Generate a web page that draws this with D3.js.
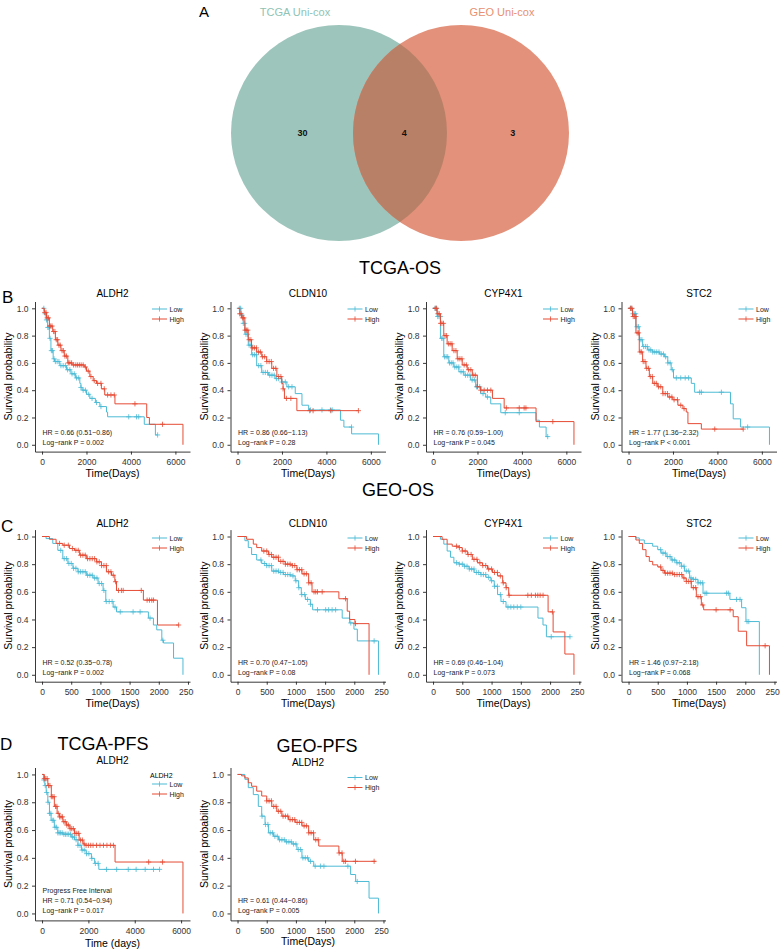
<!DOCTYPE html>
<html>
<head>
<meta charset="utf-8">
<script src="https://cdn.jsdelivr.net/npm/d3@7"></script>
<style>
  body { margin: 0; background: #fff; }
  svg { display: block; font-family: "Liberation Sans", Arial, Helvetica, sans-serif; }
</style>
</head>
<body>
<svg id="fig" width="784" height="950"></svg>
<script>
// ---- Venn (panel A) ----
var vennSets = ["TCGA Uni-cox", "GEO Uni-cox"];
var vennCounts = [30, 4, 3]; // TCGA only, both, GEO only

// ---- gene names / stats ----
var osGenes = ["ALDH2", "CLDN10", "CYP4X1", "STC2"];
var tcgaOsHR = ["HR = 0.66 (0.51\u22120.86)", "HR = 0.86 (0.66\u22121.13)", "HR = 0.76 (0.59\u22121.00)", "HR = 1.77 (1.36\u22122.32)"];
var tcgaOsP = ["Log\u2212rank P = 0.002", "Log\u2212rank P = 0.28", "Log\u2212rank P = 0.045", "Log\u2212rank P < 0.001"];
var geoOsHR = ["HR = 0.52 (0.35\u22120.78)", "HR = 0.70 (0.47\u22121.05)", "HR = 0.69 (0.46\u22121.04)", "HR = 1.46 (0.97\u22122.18)"];
var geoOsP = ["Log\u2212rank P = 0.002", "Log\u2212rank P = 0.08", "Log\u2212rank P = 0.073", "Log\u2212rank P = 0.068"];
var pfsHR = ["HR = 0.71 (0.54\u22120.94)", "HR = 0.61 (0.44\u22120.86)"];
var pfsP = ["Log\u2212rank P = 0.017", "Log\u2212rank P = 0.005"];
var groups = ["Low", "High"];

// ---- KM curves: [time(days), survival] at each step ----
var tcgaAldh2Low = [[0,1],[100,0.96],[180,0.915],[250,0.86],[330,0.78],[400,0.69],[500,0.63],[560,0.61],[800,0.58],[1100,0.55],[1300,0.52],[1500,0.49],[1700,0.45],[1750,0.42],[1800,0.40],[2000,0.37],[2150,0.34],[2400,0.31],[2600,0.28],[2900,0.24],[2950,0.205],[4600,0.15],[5100,0.072],[5200,0.072]];
var tcgaAldh2High = [[0,1],[100,0.97],[200,0.93],[330,0.87],[480,0.83],[600,0.77],[710,0.73],[850,0.69],[1000,0.65],[1160,0.6],[1350,0.585],[1900,0.57],[2000,0.54],[2150,0.5],[2300,0.47],[2450,0.45],[2670,0.41],[2820,0.365],[3280,0.3],[4710,0.2],[4830,0.15],[6340,0]];
var tcgaCldn10Low = [[0,1],[150,0.95],[257,0.89],[332,0.81],[483,0.73],[634,0.66],[861,0.58],[1087,0.53],[1389,0.51],[1691,0.485],[1993,0.46],[2220,0.425],[2597,0.375],[2899,0.29],[3201,0.255],[4636,0.18],[4787,0.13],[5134,0.08],[6342,0]];
var tcgaCldn10High = [[0,1],[100,0.96],[180,0.93],[330,0.84],[480,0.77],[630,0.71],[860,0.68],[1090,0.645],[1310,0.61],[1540,0.56],[1770,0.5],[1990,0.45],[2050,0.41],[2110,0.34],[2670,0.25],[5440,0.25]];
var tcgaCyp4x1Low = [[0,1],[181,0.94],[332,0.78],[483,0.645],[710,0.60],[936,0.57],[1163,0.535],[1389,0.51],[1691,0.475],[1918,0.425],[2144,0.375],[2371,0.35],[2597,0.30],[3050,0.235],[4636,0.18],[4787,0.13],[5089,0.06],[5194,0.06]];
var tcgaCyp4x1High = [[0,1],[181,0.96],[332,0.89],[483,0.80],[634,0.74],[861,0.69],[1087,0.63],[1313,0.585],[1540,0.55],[1766,0.51],[1993,0.425],[2144,0.40],[2673,0.34],[3201,0.27],[4636,0.17],[6342,0]];
var tcgaStc2Low = [[0,1],[181,0.96],[332,0.865],[483,0.77],[634,0.72],[861,0.695],[1087,0.68],[1389,0.665],[1616,0.645],[1766,0.60],[1918,0.55],[2023,0.49],[2824,0.45],[2975,0.385],[4590,0.30],[4711,0.19],[5043,0.13],[6342,0]];
var tcgaStc2High = [[0,1],[181,0.94],[332,0.82],[483,0.68],[634,0.61],[785,0.56],[936,0.50],[1087,0.45],[1313,0.425],[1540,0.375],[1766,0.35],[1993,0.33],[2220,0.29],[2446,0.265],[2597,0.24],[2673,0.155],[3277,0.115],[5164,0.115]];

var geoAldh2Low = [[0,1],[69,0.985],[184,0.95],[270,0.90],[356,0.84],[443,0.805],[529,0.77],[615,0.745],[759,0.72],[874,0.70],[960,0.66],[1046,0.61],[1092,0.53],[1218,0.49],[1276,0.455],[1822,0.41],[1908,0.36],[1965,0.325],[2052,0.25],[2080,0.23],[2253,0.12],[2414,0]];
var geoAldh2High = [[0,1],[126,0.98],[241,0.95],[356,0.937],[471,0.913],[557,0.90],[644,0.865],[759,0.84],[931,0.817],[1017,0.79],[1103,0.745],[1190,0.72],[1247,0.673],[1276,0.61],[1736,0.54],[1977,0.36],[2339,0.36]];
var geoCldn10Low = [[0,1],[126,0.97],[184,0.92],[241,0.87],[328,0.83],[414,0.805],[500,0.79],[586,0.75],[701,0.74],[787,0.725],[902,0.715],[988,0.68],[1046,0.63],[1092,0.58],[1161,0.545],[1247,0.51],[1287,0.47],[1793,0.41],[1920,0.375],[1994,0.33],[2052,0.245],[2414,0]];
var geoCldn10High = [[0,1],[155,0.98],[270,0.945],[328,0.92],[414,0.895],[529,0.87],[586,0.85],[701,0.82],[816,0.80],[931,0.79],[1017,0.76],[1103,0.73],[1218,0.665],[1276,0.60],[1736,0.55],[1879,0.46],[1920,0.40],[2011,0.37],[2253,0]];
var geoCyp4x1Low = [[0,1],[126,0.98],[184,0.945],[241,0.895],[299,0.85],[356,0.81],[443,0.80],[529,0.785],[615,0.765],[701,0.74],[816,0.725],[902,0.705],[988,0.68],[1046,0.64],[1103,0.58],[1161,0.53],[1247,0.49],[1793,0.41],[1879,0.36],[1937,0.275],[2339,0.275]];
var geoCyp4x1High = [[0,1],[155,0.98],[241,0.945],[328,0.93],[443,0.92],[500,0.895],[586,0.87],[672,0.835],[759,0.81],[845,0.79],[931,0.765],[1017,0.74],[1103,0.715],[1190,0.665],[1247,0.63],[1293,0.575],[1966,0.455],[2052,0.31],[2253,0.15],[2408,0]];
var geoStc2Low = [[0,1],[126,0.99],[184,0.975],[270,0.95],[414,0.93],[500,0.905],[557,0.88],[644,0.855],[730,0.83],[816,0.81],[902,0.785],[960,0.75],[1046,0.70],[1103,0.69],[1190,0.665],[1276,0.59],[1736,0.545],[1937,0.485],[2011,0.385],[2241,0]];
var geoStc2High = [[0,1],[126,0.975],[184,0.95],[241,0.905],[299,0.855],[356,0.82],[414,0.795],[500,0.78],[557,0.755],[615,0.735],[759,0.725],[931,0.70],[988,0.675],[1075,0.63],[1161,0.565],[1247,0.505],[1287,0.47],[1793,0.42],[1879,0.315],[2023,0.21],[2414,0]];

var tcgaPfsLow = [[0,1],[60,0.96],[120,0.92],[180,0.87],[250,0.80],[320,0.72],[390,0.67],[530,0.62],[680,0.58],[900,0.57],[1260,0.55],[1400,0.53],[1550,0.49],[1700,0.456],[1900,0.43],[2130,0.396],[2270,0.36],[2450,0.317],[5070,0.317]];
var tcgaPfsHigh = [[0,1],[100,0.97],[250,0.92],[400,0.84],[530,0.77],[650,0.72],[750,0.695],[900,0.66],[1050,0.636],[1200,0.61],[1400,0.576],[1600,0.528],[1770,0.50],[1850,0.49],[3150,0.37],[6080,0]];
var geoPfsLow = [[0,1],[126,0.965],[184,0.905],[270,0.855],[356,0.77],[414,0.70],[471,0.64],[529,0.58],[615,0.555],[701,0.53],[816,0.515],[931,0.50],[1017,0.46],[1103,0.40],[1218,0.375],[1305,0.34],[1937,0.28],[2023,0.23],[2253,0.11],[2414,0]];
var geoPfsHigh = [[0,1],[69,0.99],[126,0.975],[184,0.94],[241,0.915],[328,0.88],[414,0.845],[500,0.81],[586,0.77],[672,0.735],[759,0.70],[874,0.675],[988,0.655],[1103,0.63],[1218,0.58],[1305,0.53],[1391,0.485],[1736,0.435],[1793,0.375],[2368,0.375]];

// ---- censoring times (days) ----
var tcgaAldh2LowCens = [80,140,200,260,310,360,420,470,540,600,680,760,850,950,1050,1150,1250,1350,1450,1550,1650,1750,1850,1950,2100,2250,2450,2650,3900,4250,4350,5200];
var tcgaAldh2HighCens = [120,180,230,290,340,390,450,520,580,640,700,760,820,900,960,1030,1100,1180,1250,1330,1420,1520,1600,1680,1760,1850,1950,2080,2200,2350,2500,2650,2800,2950,3100,3250,4180,5420];
var tcgaCldn10LowCens = [80,140,200,260,320,380,450,520,600,680,760,850,950,1050,1150,1250,1350,1450,1550,1650,1750,1850,2000,2150,2300,2450,3280,3800,4180,4260,5130];
var tcgaCldn10HighCens = [100,160,220,280,340,400,460,520,600,680,760,850,940,1030,1120,1220,1320,1420,1520,1620,1720,1850,1950,2050,2200,2400,3250,3400,4200,5440];
var tcgaCyp4x1LowCens = [90,150,210,270,330,390,450,520,590,660,740,820,900,980,1070,1160,1260,1360,1460,1560,1660,1760,1860,1960,2100,2250,2450,3250,3880,5160];
var tcgaCyp4x1HighCens = [100,160,220,280,340,400,470,540,610,690,770,850,940,1030,1120,1210,1300,1400,1500,1600,1700,1800,1900,2000,2150,2300,2450,2600,3300,3880,4100,4180,5390];
var tcgaStc2LowCens = [80,140,200,260,320,380,450,520,600,680,760,840,920,1000,1090,1180,1270,1370,1470,1570,1670,1770,1870,1970,2150,2350,2550,2700,3200,3280,4180,5360];
var tcgaStc2HighCens = [90,150,210,270,330,390,450,520,590,660,740,820,900,980,1070,1160,1250,1350,1450,1550,1650,1750,1850,1950,2050,2200,2350,2500,3880,5160];

var geoAldh2LowCens = [320,380,420,460,500,540,580,620,660,700,740,780,820,860,900,940,980,1020,1060,1100,1150,1200,1250,1340,1560,1680,1850,2070];
var geoAldh2HighCens = [300,380,450,520,580,620,660,700,740,780,820,860,900,940,980,1020,1060,1100,1140,1180,1220,1260,1310,1360,1390,1700,1800,1840,1880,1910,2340];
var geoCldn10LowCens = [400,460,500,540,580,620,660,700,740,780,820,860,900,950,1000,1050,1100,1150,1200,1250,1370,1510,1560,1620,1680,1940,2340];
var geoCldn10HighCens = [450,500,540,580,620,660,700,740,780,820,860,900,940,980,1020,1060,1100,1140,1180,1220,1260,1310,1340,1370,1450,1850,2020];
var geoCyp4x1LowCens = [400,450,500,540,580,620,660,700,740,780,820,860,900,950,1000,1050,1100,1150,1200,1280,1330,1380,1440,1500,2020,2340];
var geoCyp4x1HighCens = [400,450,500,550,600,650,700,750,800,850,900,950,1000,1050,1100,1150,1200,1250,1300,1620,1680,1750,1790,1830,1880,2040];
var geoStc2LowCens = [550,590,630,670,710,750,790,830,870,910,950,990,1030,1070,1110,1150,1190,1230,1270,1310,1340,1680,1710,1850,1910,2030,2060];
var geoStc2HighCens = [550,590,630,670,710,750,790,830,870,910,950,990,1030,1070,1110,1150,1190,1230,1270,1500,1740,2340];

var tcgaPfsLowCens = [80,140,200,260,320,380,440,500,560,620,680,740,800,870,940,1010,1080,1150,1230,1310,1390,1470,1550,1640,1730,1820,1920,2020,2150,2300,2420,2780,3220,3720,4060,4450,4810,5070];
var tcgaPfsHighCens = [100,160,220,280,340,400,460,520,580,640,700,760,820,880,940,1000,1070,1140,1210,1280,1350,1420,1500,1580,1660,1740,1820,1900,2000,2100,2200,2350,2500,2650,2800,2950,3080,4600,5200];
var geoPfsLowCens = [420,480,520,560,600,640,680,720,760,800,840,880,920,960,1000,1040,1080,1120,1160,1200,1250,1330,1420,1480,1890,2050];
var geoPfsHighCens = [500,540,580,620,660,700,740,780,820,860,900,940,980,1020,1060,1100,1140,1180,1220,1260,1300,1340,1380,1740,1790,1820,1850,2020,2340];

var lowColor = "#4dbbd5";
var highColor = "#e64b35";

var svg = d3.select("#fig");

// ---------- Panel A: Venn ----------
function drawVenn() {
    var vx = d3.scaleLinear().domain([-1, 1]).range([339, 461]);
    var r = 108, cy = 133;
    var defs = svg.append("defs");
    defs.append("clipPath").attr("id", "vennClip")
        .append("circle").attr("cx", vx(-1)).attr("cy", cy).attr("r", r);

    svg.append("circle").attr("cx", vx(-1)).attr("cy", cy).attr("r", r).attr("fill", "#9dc5bb");
    svg.append("circle").attr("cx", vx(1)).attr("cy", cy).attr("r", r).attr("fill", "#e3917a");
    svg.append("circle").attr("cx", vx(1)).attr("cy", cy).attr("r", r)
        .attr("clip-path", "url(#vennClip)").attr("fill", "#b98068");

    svg.append("text").attr("x", 295).attr("y", 16).attr("text-anchor", "middle")
        .attr("font-size", 11).attr("fill", "#8fc3b5").text(vennSets[0]);
    svg.append("text").attr("x", 502).attr("y", 16).attr("text-anchor", "middle")
        .attr("font-size", 11).attr("fill", "#e8906f").text(vennSets[1]);

    // region labels: left only, both, right only
    var labX = [vx(-1.6), vx(0.07), vx(1.85)];
    vennCounts.forEach(function (c, i) {
        svg.append("text").attr("x", labX[i]).attr("y", cy + 3).attr("text-anchor", "middle")
            .attr("font-size", 9).attr("font-weight", "bold").attr("fill", "#111").text(c);
    });
    svg.append("text").attr("x", 199).attr("y", 17).attr("font-size", 15).text("A");
}

// step lookup for a censor mark
function survAt(curve, t) {
    var i = d3.bisector(function (d) { return d[0]; }).right(curve, t) - 1;
    return curve[Math.max(0, i)][1];
}

// ---------- KM panel ----------
function drawKM(p) {
    var g = svg.append("g").attr("transform", "translate(" + p.x + ",0)");
    var clipId = "clip" + p.id;
    svg.select("defs").append("clipPath").attr("id", clipId)
        .append("rect").attr("x", -5).attr("y", p.top - 30).attr("width", 198.5).attr("height", 250);
    g.attr("clip-path", "url(#" + clipId + ")");

    var tMax = d3.max(p.curves, function (c) { return d3.max(c, function (d) { return d[0]; }); });
    var x = d3.scaleLinear().domain([-tMax * 0.05, tMax * 1.05]).range([35, 190]);
    var y = d3.scaleLinear().domain([-0.05, 1.05]).range([p.bottom, p.top]);

    // axes
    var yAxis = g.append("g").attr("transform", "translate(35,0)")
        .call(d3.axisLeft(y).tickValues([0, 0.2, 0.4, 0.6, 0.8, 1.0]).tickFormat(d3.format(".1f"))
            .tickSize(3).tickSizeOuter(0).tickPadding(3.5));
    var xAxis = g.append("g").attr("transform", "translate(0," + p.bottom + ")")
        .call(d3.axisBottom(x).tickValues(p.ticks).tickFormat(d3.format("d"))
            .tickSize(3).tickSizeOuter(0).tickPadding(4.5));
    [yAxis, xAxis].forEach(function (a) {
        a.selectAll("text").attr("font-size", 8.5).attr("fill", "#333").attr("font-family", null);
        a.selectAll("path, line").attr("stroke", "#222").attr("stroke-width", 0.9);
        a.attr("font-family", null);
    });

    // curves (Low first, High on top)
    var line = d3.line().curve(d3.curveStepAfter)
        .x(function (d) { return x(d[0]); }).y(function (d) { return y(d[1]); });
    var colors = [lowColor, highColor];
    p.curves.forEach(function (c, i) {
        g.append("path").datum(c).attr("d", line).attr("fill", "none")
            .attr("stroke", colors[i]).attr("stroke-width", 1);
        var cens = g.append("g").attr("stroke", colors[i]).attr("stroke-width", 0.8);
        p.cens[i].forEach(function (t) {
            var cx = x(t), cy = y(survAt(c, t));
            cens.append("line").attr("x1", cx).attr("x2", cx).attr("y1", cy - 2.6).attr("y2", cy + 2.6);
            cens.append("line").attr("x1", cx - 2.6).attr("x2", cx + 2.6).attr("y1", cy).attr("y2", cy);
        });
    });

    // titles
    g.append("text").attr("x", 112.5).attr("y", p.titleY).attr("text-anchor", "middle")
        .attr("font-size", 10).text(p.title);
    g.append("text").attr("x", 112.5).attr("y", p.xlabY).attr("text-anchor", "middle")
        .attr("font-size", 10.5).text(p.xlab);
    g.append("text").attr("transform", "translate(8," + ((p.top + p.bottom) / 2) + ") rotate(-90)")
        .attr("text-anchor", "middle").attr("dominant-baseline", "central")
        .attr("font-size", 10.5).text("Survival probability");

    // legend
    var ly = p.top + p.legendDy;
    if (p.legendTitle) {
        g.append("text").attr("x", 150).attr("y", ly - 9).attr("dominant-baseline", "central")
            .attr("font-size", 7).text(p.legendTitle);
    }
    groups.forEach(function (name, i) {
        var yy = ly + i * 10;
        g.append("line").attr("x1", 152).attr("x2", 167).attr("y1", yy).attr("y2", yy)
            .attr("stroke", colors[i]).attr("stroke-width", 1);
        g.append("line").attr("x1", 159.5).attr("x2", 159.5).attr("y1", yy - 2.6).attr("y2", yy + 2.6)
            .attr("stroke", colors[i]).attr("stroke-width", 0.8);
        g.append("text").attr("x", 169.5).attr("y", yy).attr("dominant-baseline", "central")
            .attr("font-size", 7).attr("fill", "#222").text(name);
    });

    // stats text
    var lines = p.stats;
    lines.forEach(function (s, i) {
        g.append("text").attr("x", 42.5).attr("y", p.bottom - 7 - (lines.length - 1 - i) * 10)
            .attr("font-size", 7).attr("fill", "#222").text(s);
    });
}

function header(txt, x, y, size) {
    svg.append("text").attr("x", x).attr("y", y).attr("text-anchor", "middle")
        .attr("font-size", size).text(txt);
}

drawVenn();

var tcgaTicks = [0, 2000, 4000, 6000];
var geoTicks = [0, 500, 1000, 1500, 2000, 2500];
var colX = [0, 195.5, 391, 586.5];

var tcgaOsCurves = [[tcgaAldh2Low, tcgaAldh2High], [tcgaCldn10Low, tcgaCldn10High], [tcgaCyp4x1Low, tcgaCyp4x1High], [tcgaStc2Low, tcgaStc2High]];
var tcgaOsCens = [[tcgaAldh2LowCens, tcgaAldh2HighCens], [tcgaCldn10LowCens, tcgaCldn10HighCens], [tcgaCyp4x1LowCens, tcgaCyp4x1HighCens], [tcgaStc2LowCens, tcgaStc2HighCens]];
var geoOsCurves = [[geoAldh2Low, geoAldh2High], [geoCldn10Low, geoCldn10High], [geoCyp4x1Low, geoCyp4x1High], [geoStc2Low, geoStc2High]];
var geoOsCens = [[geoAldh2LowCens, geoAldh2HighCens], [geoCldn10LowCens, geoCldn10HighCens], [geoCyp4x1LowCens, geoCyp4x1HighCens], [geoStc2LowCens, geoStc2HighCens]];

header("TCGA-OS", 400, 274, 18);
header("GEO-OS", 398, 496, 18);
header("TCGA-PFS", 103, 750, 18);
header("GEO-PFS", 317, 752, 18);
svg.append("text").attr("x", 2).attr("y", 303).attr("font-size", 17).text("B");
svg.append("text").attr("x", 1).attr("y", 532).attr("font-size", 17).text("C");
svg.append("text").attr("x", 0).attr("y", 750).attr("font-size", 17).text("D");

osGenes.forEach(function (gene, i) {
    drawKM({
        id: "b" + i, x: colX[i], top: 301.5, bottom: 451.6, titleY: 297, xlabY: 477,
        title: gene, xlab: "Time(Days)", ticks: tcgaTicks, legendDy: 7.5,
        curves: tcgaOsCurves[i], cens: tcgaOsCens[i], stats: [tcgaOsHR[i], tcgaOsP[i]]
    });
    drawKM({
        id: "c" + i, x: colX[i], top: 529.6, bottom: 681.7, titleY: 526.5, xlabY: 706.5,
        title: gene, xlab: "Time(Days)", ticks: geoTicks, legendDy: 8.4,
        curves: geoOsCurves[i], cens: geoOsCens[i], stats: [geoOsHR[i], geoOsP[i]]
    });
});

drawKM({
    id: "d0", x: colX[0], top: 767.5, bottom: 920.4, titleY: 763.5, xlabY: 946.5,
    title: "ALDH2", xlab: "Time (days)", ticks: tcgaTicks, legendDy: 16.5, legendTitle: "ALDH2",
    curves: [tcgaPfsLow, tcgaPfsHigh], cens: [tcgaPfsLowCens, tcgaPfsHighCens],
    stats: ["Progress Free Interval", pfsHR[0], pfsP[0]]
});
drawKM({
    id: "d1", x: colX[1], top: 767.5, bottom: 920.4, titleY: 766, xlabY: 945,
    title: "ALDH2", xlab: "Time(Days)", ticks: geoTicks, legendDy: 10,
    curves: [geoPfsLow, geoPfsHigh], cens: [geoPfsLowCens, geoPfsHighCens],
    stats: [pfsHR[1], pfsP[1]]
});
</script>
</body>
</html>
